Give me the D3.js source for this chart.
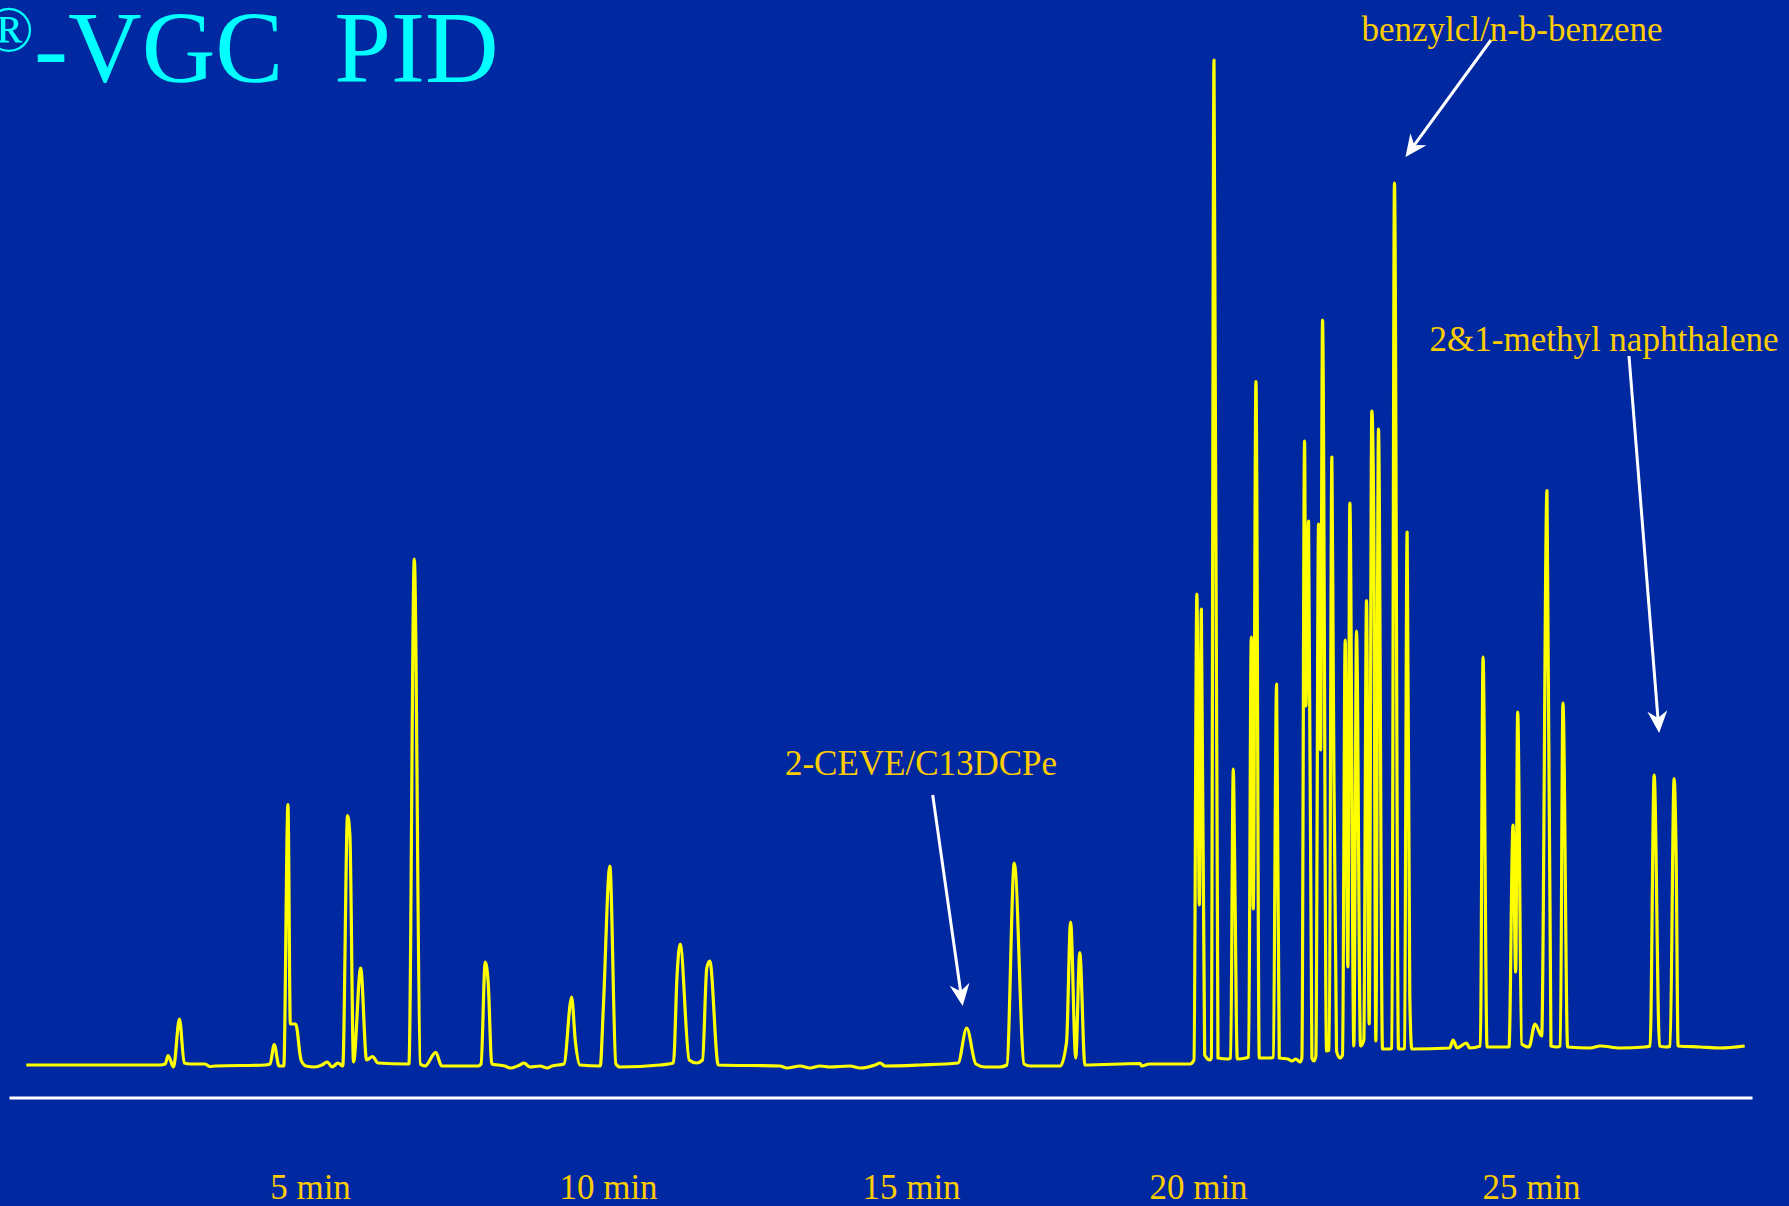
<!DOCTYPE html>
<html>
<head>
<meta charset="utf-8">
<script src="https://cdn.jsdelivr.net/npm/d3@7"></script>
<style>
  html, body { margin: 0; padding: 0; background: #0028a0; }
  svg { display: block; }
  text { font-family: "Liberation Serif", "Times New Roman", serif; }
</style>
</head>
<body>
<svg id="chart" width="1789" height="1206"></svg>
<script>
// PID chromatogram: retention time (min) and detector response (arbitrary units)
const timeMin = [
  0.24, 2.48, 2.57, 2.62, 2.71, 2.81, 2.89, 2.99, 3.24, 3.32, 3.41, 4.25, 4.33, 4.40, 4.48, 4.56,
  4.63, 4.67, 4.76, 4.85, 4.93, 5.08, 5.20, 5.29, 5.37, 5.47, 5.55, 5.63, 5.67, 5.73, 5.85, 5.95,
  6.05, 6.14, 6.61, 6.66, 6.75, 6.85, 6.93, 7.11, 7.21, 7.82, 7.87, 7.94, 7.99, 8.05, 8.27, 8.36,
  8.52, 8.59, 8.69, 8.86, 8.98, 9.06, 9.26, 9.39, 9.45, 9.53, 9.87, 9.92, 10.03, 10.13, 10.20, 10.86,
  11.08, 11.14, 11.19, 11.34, 11.46, 11.56, 11.63, 11.68, 11.82, 12.84, 12.95, 13.17, 13.33, 13.50, 13.66, 13.99, 14.16, 14.41,
  14.49, 14.57, 15.16, 15.82, 15.97, 16.13, 16.29, 16.55, 16.67, 16.80, 16.97, 17.07, 17.60, 17.71, 17.78, 17.87,
  17.94, 18.03, 18.99, 19.02, 19.15, 19.86, 19.93, 19.98, 20.02, 20.05, 20.10, 20.18, 20.20, 20.24, 20.30, 20.45,
  20.49, 20.53, 20.55, 20.59, 20.72, 20.76, 20.80, 20.83, 20.87, 20.92, 21.10, 21.13, 21.18, 21.22, 21.35, 21.41,
  21.47, 21.53, 21.56, 21.60, 21.62, 21.66, 21.71, 21.74, 21.77, 21.81, 21.84, 21.87, 21.93, 21.97, 22.01, 22.03,
  22.08, 22.13, 22.17, 22.21, 22.25, 22.28, 22.34, 22.38, 22.44, 22.49, 22.53, 22.57, 22.61, 22.64, 22.67, 22.71,
  22.77, 22.88, 22.91, 22.95, 23.01, 23.08, 23.10, 23.14, 23.18, 23.21, 23.78, 23.83, 23.89, 24.03, 24.08, 24.24,
  24.28, 24.34, 24.67, 24.73, 24.77, 24.80, 24.86, 24.97, 25.06, 25.16, 25.24, 25.30, 25.39, 25.44, 25.48, 25.55,
  25.89, 26.04, 26.34, 26.71, 26.79, 26.85, 26.93, 27.03, 27.09, 27.15, 27.18, 27.21, 27.54, 27.84, 28.21
];
const signal = [
  0, 0, 1, 9.5, -2, 46, 2, 1, 1, -1.5, -1, 0, 1, 20.5, -1, -1,
  260.5, 41, 41, 5, -1, -2, 0, 3, -2, 2, -1, 249.5, 229, 3, 97, 5,
  8.5, 2, 1, 1, 506, 1, -1, 12.6, -1, -1, 1, 103, 82, 1, -1, -3,
  0, 2, -2, -1, -3, -1, 1, 68, 25, 0, -1, 55, 199, 1, -2, 0,
  2, 90, 121, 5, 2, 5, 97, 104, 0, -1, -3, -1, -3, -1, -2, -1, -3, 0,
  2, -1, 0, 2, 37, 1, -2, -2, 0, 202, 1, -1, -1, 23, 143, 7,
  112.5, 0, 1.5, -1, 1, 1, 5, 471, 160, 456, 10, 5, 7, 1005, 7, 6,
  7, 296, 205, 6, 7, 8, 428, 156, 683.5, 7, 7, 8, 381, 7, 6, 4,
  6, 3, 7, 624, 359, 544, 7, 4, 9, 541, 315, 745, 14, 15, 608, 404,
  14, 7, 10, 425, 98, 562, 19, 434, 19, 25, 464.5, 41, 654, 539, 24, 636,
  16, 16, 17, 882, 16, 16, 17, 533, 68.5, 16, 17, 25, 17, 22, 17, 19,
  408, 18, 18, 240, 93, 353, 21, 18, 41, 29, 574.5, 19, 18, 19, 362, 18,
  17, 19, 17, 18, 19, 290, 19, 18, 19, 286.4, 210, 19, 18, 17, 19
];

// time-axis labels
const tickMinutes = [5, 10, 15, 20, 25];

// peak call-outs
const annotationText = ["2-CEVE/C13DCPe", "benzylcl/n-b-benzene", "2&1-methyl naphthalene"];
const annotationTime = [15.97, 22.95, 27.0];
const annotationSignal = [37, 882, 288];

const svg = d3.select("#chart");
const W = 1789, H = 1206;

svg.append("rect").attr("width", W).attr("height", H).attr("fill", "#0028a0");

// retention-time scale (calibrated piecewise against the labelled minutes)
const x = d3.scaleLinear()
  .domain([-0.05, 5, 10, 15, 20, 25, 28.32])
  .range([9, 310, 608, 911, 1198, 1531, 1752]);

const y = d3.scaleLinear().domain([0, 1000]).range([1065, 65]);

// title
svg.append("text")
  .attr("x", 34).attr("y", 51)
  .attr("text-anchor", "end")
  .attr("font-size", 66)
  .attr("fill", "#00ffff")
  .text("\u00ae");
svg.append("text")
  .attr("x", 34).attr("y", 82)
  .attr("font-size", 102)
  .attr("fill", "#00ffff")
  .style("white-space", "pre")
  .text("-VGC  PID");

// time axis
const axis = svg.append("g")
  .attr("transform", "translate(0,1097.5)")
  .call(d3.axisBottom(x)
    .tickValues(tickMinutes)
    .tickFormat(d => d + " min")
    .tickSizeInner(0)
    .tickSizeOuter(0)
    .tickPadding(77));
axis.select(".domain").attr("stroke", "#ffffff").attr("stroke-width", 3);
axis.selectAll(".tick line").remove();
axis.selectAll(".tick text")
  .attr("fill", "#ffcc00")
  .attr("font-size", 35)
  .attr("font-family", "\"Liberation Serif\", \"Times New Roman\", serif");

// chromatogram trace
const points = timeMin.map((t, i) => [t, signal[i]]);
const line = d3.line()
  .x(d => x(d[0]))
  .y(d => y(d[1]))
  .curve(d3.curveMonotoneX);

svg.append("path")
  .datum(points)
  .attr("d", line)
  .attr("fill", "none")
  .attr("stroke", "#ffff00")
  .attr("stroke-width", 3.2)
  .attr("stroke-linejoin", "round");

// call-out arrows and labels
const defs = svg.append("defs");
defs.append("marker")
  .attr("id", "arrowhead")
  .attr("viewBox", "-24 -12 26 24")
  .attr("refX", 0).attr("refY", 0)
  .attr("markerWidth", 26).attr("markerHeight", 24)
  .attr("markerUnits", "userSpaceOnUse")
  .attr("orient", "auto")
  .append("path")
  .attr("d", "M0,0 L-22,-10 L-15,0 L-22,10 Z")
  .attr("fill", "#ffffff");

// label placement and arrow geometry relative to each marked peak
const calloutLayout = [
  { lx: 921,  ly: 775, sx: 932.7, sy: 795, dx: -4,  dy: -22 },
  { lx: 1512, ly: 41,  sx: 1491,  sy: 40,  dx: 11,  dy: -26 },
  { lx: 1604, ly: 351, sx: 1629,  sy: 356, dx: -5,  dy: -44 }
];

annotationText.forEach((label, i) => {
  const L = calloutLayout[i];
  const tx = x(annotationTime[i]) + L.dx;
  const ty = y(annotationSignal[i]) + L.dy;
  const len = Math.hypot(tx - L.sx, ty - L.sy);
  const ex = tx - (tx - L.sx) / len * 8;
  const ey = ty - (ty - L.sy) / len * 8;
  svg.append("line")
    .attr("x1", L.sx).attr("y1", L.sy)
    .attr("x2", ex).attr("y2", ey)
    .attr("stroke", "#ffffff")
    .attr("stroke-width", 3);
  // arrowhead placed exactly at the tip
  svg.append("path")
    .attr("d", `M${ex},${ey}L${tx},${ty}`)
    .attr("stroke", "none")
    .attr("fill", "none")
    .attr("marker-end", "url(#arrowhead)");
  svg.append("text")
    .attr("x", L.lx).attr("y", L.ly)
    .attr("text-anchor", "middle")
    .attr("font-size", 35)
    .attr("fill", "#ffcc00")
    .text(label);
});
</script>
</body>
</html>
